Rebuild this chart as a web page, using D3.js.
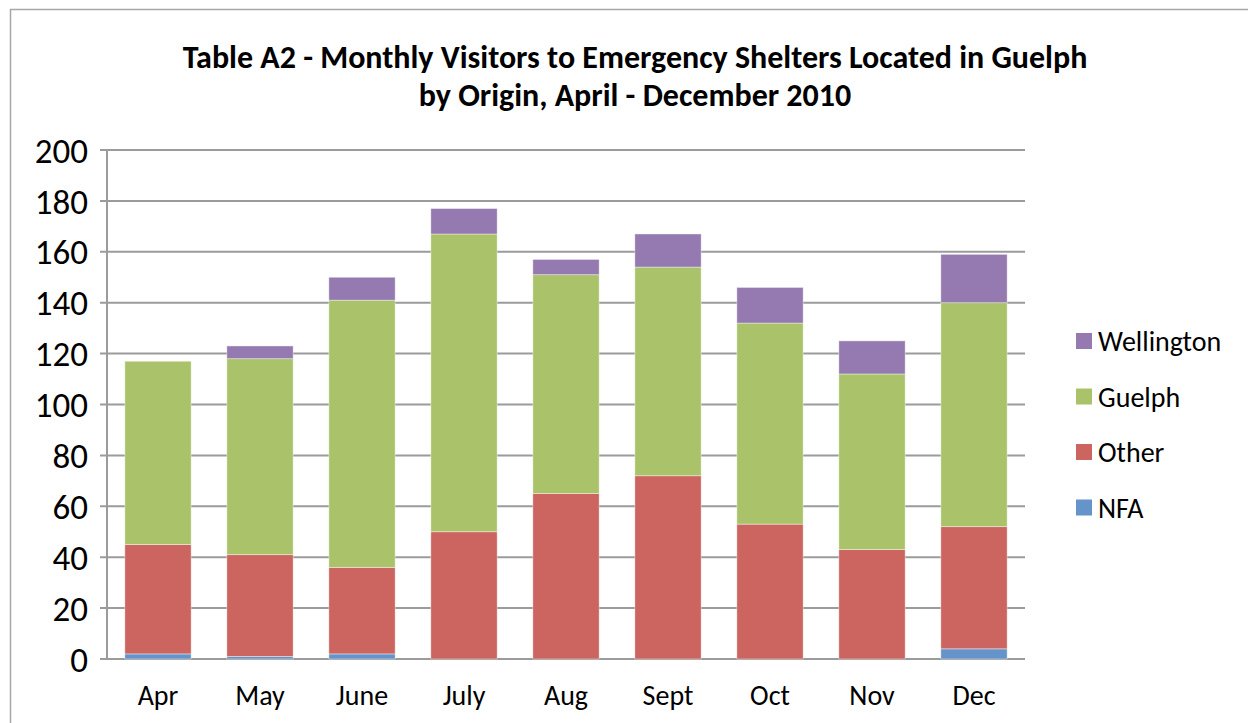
<!DOCTYPE html>
<html>
<head>
<meta charset="utf-8">
<script src="https://cdn.jsdelivr.net/npm/d3@7"></script>
<style>
  html, body { margin: 0; padding: 0; background: #fff; }
  svg { display: block; font-family: Calibri, Carlito, Lato, "Open Sans", sans-serif; }
</style>
</head>
<body>
<svg id="chart" width="1248" height="723"></svg>
<script>
(function () {
  'use strict';

  // data
  var months = ['Apr', 'May', 'June', 'July', 'Aug', 'Sept', 'Oct', 'Nov', 'Dec'];
  var nfa = [2, 1, 2, 0, 0, 0, 0, 0, 4];
  var other = [43, 40, 34, 50, 65, 72, 53, 43, 48];
  var guelph = [72, 77, 105, 117, 86, 82, 79, 69, 88];
  var wellington = [0, 5, 9, 10, 6, 13, 14, 13, 19];
  var yTicks = [0, 20, 40, 60, 80, 100, 120, 140, 160, 180, 200];

  var seriesNames = ['NFA', 'Other', 'Guelph', 'Wellington'];
  var colors = {
    NFA: '#6494c9',
    Other: '#cc6560',
    Guelph: '#aac36a',
    Wellington: '#947ab0'
  };

  var rows = months.map(function (m, i) {
    return { month: m, NFA: nfa[i], Other: other[i], Guelph: guelph[i], Wellington: wellington[i] };
  });

  var svg = d3.select('#chart');
  var margin = { left: 107, right: 223, top: 150, bottom: 64 };
  var width = 1248, height = 723;

  // outer chart frame (cropped on the right and bottom)
  svg.append('rect')
    .attr('x', 10.5).attr('y', 9.5)
    .attr('width', 1300).attr('height', 800)
    .attr('fill', 'none')
    .attr('stroke', '#a6a6a6')
    .attr('stroke-width', 1.5);

  var x = d3.scaleBand()
    .domain(months)
    .range([margin.left, width - margin.right])
    .paddingInner(0.35)
    .paddingOuter(0.175);

  var y = d3.scaleLinear()
    .domain([0, 200])
    .range([height - margin.bottom, margin.top]);

  // gridlines
  svg.append('g')
    .selectAll('line')
    .data(yTicks)
    .enter()
    .append('line')
    .attr('x1', margin.left - 7)
    .attr('x2', width - margin.right)
    .attr('y1', function (d) { return y(d); })
    .attr('y2', function (d) { return y(d); })
    .attr('stroke', '#9b9b9b')
    .attr('stroke-width', 2);

  // left axis line
  svg.append('line')
    .attr('x1', margin.left).attr('x2', margin.left)
    .attr('y1', y(200)).attr('y2', y(0))
    .attr('stroke', '#9b9b9b')
    .attr('stroke-width', 2);

  var stack = d3.stack().keys(seriesNames);
  var layers = stack(rows);

  svg.append('g')
    .selectAll('g')
    .data(layers)
    .enter()
    .append('g')
    .attr('fill', function (d) { return colors[d.key]; })
    .selectAll('rect')
    .data(function (d) { return d; })
    .enter()
    .append('rect')
    .attr('x', function (d) { return x(d.data.month); })
    .attr('width', x.bandwidth())
    .attr('y', function (d) { return y(d[1]); })
    .attr('height', function (d) { return y(d[0]) - y(d[1]); })
    .attr('stroke', '#ffffff')
    .attr('stroke-opacity', 0.5)
    .attr('stroke-width', function (d) { return d[1] > d[0] ? 0.8 : 0; });

  // y tick labels
  svg.append('g')
    .selectAll('text')
    .data(yTicks)
    .enter()
    .append('text')
    .attr('x', 88)
    .attr('y', function (d) { return y(d); })
    .attr('dy', '0.36em')
    .attr('text-anchor', 'end')
    .style('font-size', '35px')
    .attr('fill', '#000')
    .text(function (d) { return d; });

  // x labels
  svg.append('g')
    .selectAll('text')
    .data(months)
    .enter()
    .append('text')
    .attr('x', function (d) { return x(d) + x.bandwidth() / 2; })
    .attr('y', 705)
    .attr('text-anchor', 'middle')
    .style('font-size', '28px')
    .attr('fill', '#000')
    .text(function (d) { return d; });

  // title
  var title = svg.append('text')
    .attr('text-anchor', 'middle')
    .style('font-size', '32px')
    .style('font-weight', 'bold')
    .attr('fill', '#000');
  title.append('tspan').attr('x', 635).attr('y', 68)
    .text('Table A2 - Monthly Visitors to Emergency Shelters Located in Guelph');
  title.append('tspan').attr('x', 635).attr('y', 106)
    .text('by Origin, April - December 2010');

  // legend, top to bottom Wellington .. NFA
  var legendNames = seriesNames.slice().reverse();
  var lg = svg.append('g')
    .selectAll('g')
    .data(legendNames)
    .enter()
    .append('g')
    .attr('transform', function (d, i) { return 'translate(1076,' + (341 + i * 55.5) + ')'; });
  lg.append('rect')
    .attr('x', 0).attr('y', -8)
    .attr('width', 16).attr('height', 16)
    .attr('fill', function (d) { return colors[d]; });
  lg.append('text')
    .attr('x', 22)
    .attr('dy', '0.36em')
    .style('font-size', '28px')
    .attr('fill', '#000')
    .text(function (d) { return d; });
}());
</script>
</body>
</html>
